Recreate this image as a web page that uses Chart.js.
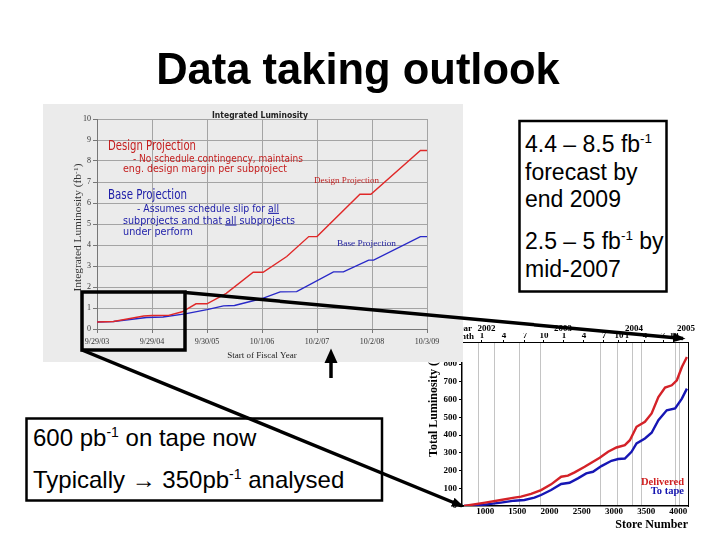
<!DOCTYPE html>
<html><head><meta charset="utf-8">
<script src="https://cdn.jsdelivr.net/npm/chart.js"></script>
<style>
html,body{margin:0;padding:0;background:#fff;width:720px;height:540px;overflow:hidden}
#stage{position:relative;width:720px;height:540px}
.layer{position:absolute}
#rightChart{left:420px;top:312px;z-index:1;background:#fff}
#under{left:0;top:0;z-index:2}
#leftChart{left:43px;top:104px;z-index:3;background:#ebebeb}
#over{left:0;top:0;z-index:4}
</style></head>
<body>
<div id="stage">
<canvas id="rightChart" class="layer" width="300" height="225"></canvas>
<svg id="under" class="layer" width="720" height="540">
  <g font-family="'Liberation Serif','Times New Roman',serif" font-weight="bold">
    <text x="472" y="331" text-anchor="end" font-size="9">Year</text>
    <text x="474" y="338.5" text-anchor="end" font-size="9">Month</text>
    <text transform="translate(437,457) rotate(-90)" font-size="12">Total Luminosity (pb<tspan dy="-4" font-size="8">-1</tspan><tspan dy="4">)</tspan></text>
    <text x="684" y="485" text-anchor="end" font-size="10.5" fill="#d02020">Delivered</text>
    <text x="684" y="493.5" text-anchor="end" font-size="10.5" fill="#1515b0">To tape</text>
  </g>
</svg>
<canvas id="leftChart" class="layer" width="420" height="258"></canvas>
<svg id="over" class="layer" width="720" height="540">
  <defs>
    <marker id="ah" viewBox="0 0 10 10" refX="8" refY="5" markerWidth="3.6" markerHeight="3.6" orient="auto" markerUnits="strokeWidth">
      <path d="M0,1.2 L10,5 L0,8.8 z" fill="#000"/>
    </marker>
  </defs>
  <text x="358" y="83.5" text-anchor="middle" font-family="'Liberation Sans',Arial,sans-serif" font-weight="bold" font-size="43.5">Data taking outlook</text>

  <!-- annotations of the left chart -->
  <g font-family="'DejaVu Sans',sans-serif">
    <text x="212" y="118" font-size="9.5" font-weight="bold" fill="#222" textLength="96" lengthAdjust="spacingAndGlyphs">Integrated Luminosity</text>
    <g fill="#c41e1e">
      <text x="108" y="149.5" font-size="13.5" textLength="88" lengthAdjust="spacingAndGlyphs">Design Projection</text>
      <text x="133" y="161.5" font-size="10.8" textLength="170" lengthAdjust="spacingAndGlyphs">- No schedule contingency, maintains</text>
      <text x="123" y="171.5" font-size="10.8" textLength="164" lengthAdjust="spacingAndGlyphs">eng. design margin per subproject</text>
    </g>
    <g fill="#1c1ca8">
      <text x="108" y="199" font-size="13.5" textLength="79" lengthAdjust="spacingAndGlyphs">Base Projection</text>
      <text x="137" y="211.8" font-size="10.8" textLength="142" lengthAdjust="spacingAndGlyphs">- Assumes schedule slip for <tspan text-decoration="underline">all</tspan></text>
      <text x="123" y="223.5" font-size="10.8" textLength="172" lengthAdjust="spacingAndGlyphs">subprojects and that <tspan text-decoration="underline">all</tspan> subprojects</text>
      <text x="123" y="235.2" font-size="10.8" textLength="70" lengthAdjust="spacingAndGlyphs">under perform</text>
    </g>
  </g>
  <g font-family="'Liberation Serif','Times New Roman',serif">
    <text x="314" y="182.5" font-size="9" fill="#c02020" textLength="65" lengthAdjust="spacingAndGlyphs">Design Projection</text>
    <text x="337" y="245.5" font-size="9" fill="#2020a0" textLength="59" lengthAdjust="spacingAndGlyphs">Base Projection</text>
    <text transform="translate(81,227.5) rotate(-90)" text-anchor="middle" font-size="10" fill="#333" textLength="128" lengthAdjust="spacingAndGlyphs">Integrated Luminosity  (fb<tspan dy="-3.5" font-size="7">-1</tspan><tspan dy="3.5">)</tspan></text>
  </g>

  <!-- text boxes -->
  <rect x="519.5" y="121" width="147" height="170.5" fill="#fff" stroke="#000" stroke-width="2.5"/>
  <g font-family="'Liberation Sans',Arial,sans-serif" font-size="23" fill="#000">
    <text x="525" y="151.7">4.4 – 8.5 fb<tspan dy="-9" font-size="13.5">-1</tspan></text>
    <text x="525" y="179.5">forecast by</text>
    <text x="525" y="206.7">end 2009</text>
    <text x="525" y="248.5">2.5 – 5 fb<tspan dy="-9" font-size="13.5">-1</tspan><tspan dy="9"> by</tspan></text>
    <text x="525" y="276.7">mid-2007</text>
  </g>
  <rect x="26.5" y="418.5" width="355.5" height="82" fill="#fff" stroke="#000" stroke-width="2.5"/>
  <g font-family="'Liberation Sans',Arial,sans-serif" font-size="24" fill="#000">
    <text x="33" y="446">600 pb<tspan dy="-9" font-size="14">-1</tspan><tspan dy="9"> on tape now</tspan></text>
    <text x="33" y="487.5">Typically → 350pb<tspan dy="-9" font-size="14">-1</tspan><tspan dy="9"> analysed</tspan></text>
  </g>

  <!-- zoom box and arrows -->
  <rect x="82" y="292" width="103" height="58" fill="none" stroke="#000" stroke-width="3.5"/>
  <line x1="185" y1="292.5" x2="683" y2="338.5" stroke="#000" stroke-width="3.5" marker-end="url(#ah)"/>
  <line x1="82" y1="350" x2="462" y2="506" stroke="#000" stroke-width="3.5" marker-end="url(#ah)"/>
  <line x1="331" y1="378" x2="331" y2="361" stroke="#000" stroke-width="3.5"/>
  <polygon points="324.5,363 337.5,363 331,348.5" fill="#000"/>
</svg>
</div>
<script>
// ---------- Left chart: Integrated Luminosity projections ----------
const fiscalYearLabels = ['9/29/03','9/29/04','9/30/05','10/1/06','10/2/07','10/2/08','10/3/09'];
const fiscalYearOffsets = [0,1,2,3,4,5,6];
const integratedLumiTicks = [0,1,2,3,4,5,6,7,8,9,10];
const designYears = [0,0.3,0.5,0.85,1.0,1.3,1.55,1.8,2.0,2.35,2.84,3.02,3.45,3.85,4.0,4.78,4.98,5.88,6.0];
const designLumi  = [0.33,0.36,0.45,0.62,0.64,0.65,0.82,1.2,1.2,1.7,2.7,2.7,3.45,4.4,4.4,6.42,6.42,8.5,8.5];
const baseYears = [0,0.3,0.6,0.9,1.2,1.6,2.0,2.3,2.5,3.0,3.33,3.63,4.3,4.48,4.94,5.03,5.88,6.0];
const baseLumi  = [0.33,0.36,0.45,0.55,0.57,0.72,0.92,1.1,1.12,1.45,1.77,1.78,2.72,2.72,3.28,3.28,4.4,4.4];

// ---------- Right chart: Total luminosity vs store number ----------
const storeTicks = [1000,1500,2000,2500,3000,3500,4000];
const totalLumiTicks = [0,100,200,300,400,500,600,700,800];
const monthTickStores = [950,1292,1618,1913,2224,2534,2845,3078,3202,3482,3762,3932];
const monthTickLabels = ['1','4','7','10','1','4','7','10','1','4','7','10'];
const yearTickStores = [1020,2208,3311,4118];
const yearTickLabels = ['2002','2003','2004','2005'];
const gridStores = [904,1137,1540,1859,2790,3054,3295,3435,3963,4025];
const deliveredStore = [672,1000,1245,1453,1557,1713,1868,2024,2180,2285,2389,2545,2649,2779,2909,3039,3169,3247,3351,3481,3585,3690,3794,3898,3977,4055,4133];
const deliveredLumi  = [0,19,34,47,53,68,90,122,165,171,190,221,244,272,306,330,343,371,447,475,522,615,668,681,709,784,840];
const toTapeStore = [672,1000,1245,1453,1609,1765,1868,2024,2180,2310,2440,2570,2674,2805,2961,3065,3169,3273,3351,3481,3585,3690,3820,3950,4055,4133];
const toTapeLumi  = [0,8,19,30,34,47,62,90,124,131,156,184,193,225,255,265,268,306,353,381,413,484,540,550,606,662];

Chart.defaults.font.family = "'Liberation Serif','Times New Roman',serif";
Chart.defaults.color = '#000';

function pts(xs, ys){ return xs.map((x,i)=>({x:x, y:ys[i]})); }
function setTicks(values){ return s => { s.ticks = values.map(v=>({value:v})); }; }

new Chart(document.getElementById('leftChart'), {
  type:'line',
  data:{datasets:[
    {label:'Design Projection', data:pts(designYears, designLumi), borderColor:'#e02828', borderWidth:1.4, pointRadius:0, tension:0},
    {label:'Base Projection', data:pts(baseYears, baseLumi), borderColor:'#2828c8', borderWidth:1.4, pointRadius:0, tension:0}
  ]},
  options:{
    responsive:false, animation:false,
    layout:{padding:{top:15,right:36,left:0,bottom:0}},
    plugins:{legend:{display:false}, tooltip:{enabled:false}},
    scales:{
      x:{type:'linear', min:0, max:6,
        afterBuildTicks:setTicks(fiscalYearOffsets),
        ticks:{callback:(v,i)=>fiscalYearLabels[i], font:{size:8}, color:'#333', padding:4, autoSkip:false, maxRotation:0},
        grid:{color:'#a4a4a4', tickLength:4, tickColor:'#777'},
        border:{color:'#777'},
        title:{display:true, text:'Start of Fiscal Year', font:{size:9}, color:'#222', padding:{top:0,bottom:1}},
        afterFit:s=>{ s.height = 33; }
      },
      y:{type:'linear', min:0, max:10,
        afterBuildTicks:setTicks(integratedLumiTicks),
        ticks:{font:{size:8}, color:'#333', padding:2},
        grid:{color:'#a4a4a4', tickLength:4, tickColor:'#777'},
        border:{color:'#777'},
        afterFit:s=>{ s.width = 54; }
      }
    }
  }
});

new Chart(document.getElementById('rightChart'), {
  type:'line',
  data:{datasets:[
    {label:'Delivered', data:pts(deliveredStore, deliveredLumi), borderColor:'#d42228', borderWidth:2.4, pointRadius:0, tension:0, xAxisID:'x', yAxisID:'y'},
    {label:'To tape', data:pts(toTapeStore, toTapeLumi), borderColor:'#1616b4', borderWidth:2.4, pointRadius:0, tension:0, xAxisID:'x', yAxisID:'y'}
  ]},
  options:{
    responsive:false, animation:false,
    layout:{padding:{top:0,right:32,left:0,bottom:0}},
    plugins:{legend:{display:false}, tooltip:{enabled:false}},
    scales:{
      x:{type:'linear', position:'bottom', min:640, max:4150,
        afterBuildTicks:setTicks(storeTicks),
        ticks:{callback:v=>String(v), font:{size:9, weight:'bold'}, padding:0, autoSkip:false, maxRotation:0},
        grid:{drawOnChartArea:false, drawTicks:false},
        border:{color:'#000', width:1.5},
        title:{display:true, text:'Store Number', align:'end', font:{size:12, weight:'bold'}, padding:{top:0,bottom:5}},
        afterFit:s=>{ s.height = 31; }
      },
      xg:{type:'linear', position:'bottom', min:640, max:4150,
        afterBuildTicks:setTicks(gridStores),
        ticks:{display:false},
        grid:{color:'#c4c4c4', drawTicks:false},
        border:{display:false},
        afterFit:s=>{ s.height = 0; }
      },
      x2:{type:'linear', position:'top', weight:0, min:640, max:4150,
        afterBuildTicks:setTicks(monthTickStores),
        ticks:{callback:(v,i)=>monthTickLabels[i], font:{size:9, weight:'bold'}, padding:-1.5, autoSkip:false, maxRotation:0},
        grid:{drawOnChartArea:false, tickLength:2, tickColor:'#000'},
        border:{color:'#000', width:1},
        afterFit:s=>{ s.height = 9; }
      },
      x3:{type:'linear', position:'top', weight:1, min:640, max:4150,
        afterBuildTicks:setTicks(yearTickStores),
        ticks:{callback:(v,i)=>yearTickLabels[i], font:{size:9, weight:'bold'}, padding:-9, autoSkip:false, maxRotation:0},
        grid:{display:false},
        border:{display:false},
        afterFit:s=>{ s.height = 21; }
      },
      y:{type:'linear', position:'left', min:0, max:925,
        afterBuildTicks:setTicks(totalLumiTicks),
        ticks:{font:{size:9, weight:'bold'}, padding:2},
        grid:{drawOnChartArea:false, tickLength:3, tickColor:'#000'},
        border:{color:'#000', width:1.5},
        afterFit:s=>{ s.width = 42; }
      },
      y2:{type:'linear', position:'right', min:0, max:1,
        ticks:{display:false},
        grid:{display:false},
        border:{color:'#000', width:1},
        afterFit:s=>{ s.width = 0; }
      }
    }
  }
});
</script>
</body></html>
